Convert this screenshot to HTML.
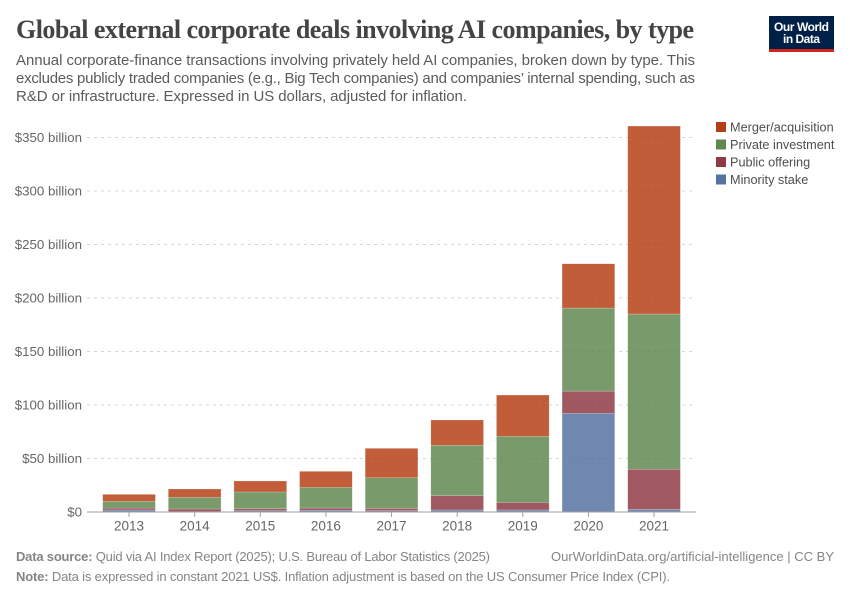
<!DOCTYPE html>
<html lang="en">
<head>
<meta charset="utf-8">
<title>Global external corporate deals involving AI companies, by type</title>
<style>
html,body{margin:0;padding:0;background:#fff;width:850px;height:600px;overflow:hidden}
svg{display:block;font-family:"Liberation Sans",sans-serif}
</style>
</head>
<body>
<svg id="chart" width="850" height="600" viewBox="0 0 850 600" xmlns="http://www.w3.org/2000/svg">
  <rect width="850" height="600" fill="#fff"/>
  <text x="16" y="38" font-family="'Liberation Serif',serif" font-weight="700" font-size="26" fill="#444" textLength="678" lengthAdjust="spacing">Global external corporate deals involving AI companies, by type</text>
  <g font-size="15" fill="#5b5b5b">
    <text x="16" y="65" textLength="679" lengthAdjust="spacing">Annual corporate-finance transactions involving privately held AI companies, broken down by type. This</text>
    <text x="16" y="83" textLength="679" lengthAdjust="spacing">excludes publicly traded companies (e.g., Big Tech companies) and companies’ internal spending, such as</text>
    <text x="16" y="101" textLength="451" lengthAdjust="spacing">R&amp;D or infrastructure. Expressed in US dollars, adjusted for inflation.</text>
  </g>
  <a>
    <rect x="769" y="16" width="65" height="36" fill="#002147"/>
    <rect x="769" y="49" width="65" height="3" fill="#ce261e"/>
    <text x="801.5" y="31" text-anchor="middle" font-size="12" font-weight="700" fill="#fff" textLength="55" lengthAdjust="spacing">Our World</text>
    <text x="801.5" y="43" text-anchor="middle" font-size="12" font-weight="700" fill="#fff" textLength="37" lengthAdjust="spacing">in Data</text>
  </a>
  <g id="grid"></g>
  <g id="bars"></g>
  <g id="axis"></g>
  <g id="legend"></g>
  <g font-size="13" fill="#858585">
    <text x="16" y="561" textLength="474" lengthAdjust="spacing"><tspan font-weight="700">Data source:</tspan> Quid via AI Index Report (2025); U.S. Bureau of Labor Statistics (2025)</text>
    <text x="551" y="561" textLength="283" lengthAdjust="spacing">OurWorldinData.org/artificial-intelligence | CC BY</text>
    <text x="16" y="581" textLength="654" lengthAdjust="spacing"><tspan font-weight="700">Note:</tspan> Data is expressed in constant 2021 US$. Inflation adjustment is based on the US Consumer Price Index (CPI).</text>
  </g>
</svg>
<script>
const years = [2013, 2014, 2015, 2016, 2017, 2018, 2019, 2020, 2021];
const minorityStake = [1.9, 0.4, 1.2, 1.6, 1.2, 1.9, 1.9, 92.2, 2.5];
const publicOffering = [1.8, 2.4, 1.9, 2.1, 2.2, 13.4, 7.1, 20.8, 37.5];
const privateInvestment = [6.3, 10.9, 15.6, 19.3, 28.6, 47.0, 61.7, 77.6, 145.0];
const mergerAcquisition = [6.5, 7.8, 10.3, 15.0, 27.5, 23.7, 38.6, 41.4, 175.7];
const seriesNames = ['Minority stake', 'Public offering', 'Private investment', 'Merger/acquisition'];
const seriesValues = [minorityStake, publicOffering, privateInvestment, mergerAcquisition];
const seriesColors = ['#4c6a9c', '#883039', '#578145', '#b13507'];
const yTicks = [50, 100, 150, 200, 250, 300, 350];

const NS = 'http://www.w3.org/2000/svg';
const plotBottom = 512;
const pxPerBillion = 1.07;
const firstBandLeft = 102.7;
const bandStep = 65.625;
const barWidth = 52.7;
function yScale(v) { return plotBottom - v * pxPerBillion; }
function xLeft(i) { return firstBandLeft + i * bandStep; }
function xCenter(i) { return xLeft(i) + barWidth / 2; }
function make(tag, attrs, parent, text) {
  const el = document.createElementNS(NS, tag);
  for (const k in attrs) el.setAttribute(k, attrs[k]);
  if (text !== undefined) el.textContent = text;
  parent.appendChild(el);
  return el;
}
const grid = document.getElementById('grid');
const bars = document.getElementById('bars');
const axis = document.getElementById('axis');
const legend = document.getElementById('legend');

yTicks.forEach(function (t) {
  const line = make('line', { x1: 87, x2: 696, y1: yScale(t), y2: yScale(t), stroke: '#d6d6d6', 'stroke-dasharray': '3 4' }, grid);
  
  
});

[0].concat(yTicks).forEach(function (t) {
  const label = make('text', { x: 82, y: yScale(t) + 4.7, 'text-anchor': 'end', 'font-size': 13.3, fill: '#666' }, axis, t === 0 ? '$0' : '$' + t + ' billion');
  
  
});

years.forEach(function (year, i) {
  let base = 0;
  seriesValues.forEach(function (values, s) {
    const top = base + values[i];
    const rect = make('rect', { x: xLeft(i), y: yScale(top), width: barWidth, height: yScale(base) - yScale(top), fill: seriesColors[s], 'fill-opacity': 0.8, stroke: '#fff', 'stroke-opacity': 0.4, 'stroke-width': 0.5 }, bars);
    
    
    base = top;
  });
});

const axisLine = make('line', { x1: 87, x2: 696, y1: plotBottom, y2: plotBottom, stroke: '#a1a1a1', 'stroke-width': 1 }, axis);



years.forEach(function (year, i) {
  const tick = make('line', { x1: xCenter(i), x2: xCenter(i), y1: plotBottom, y2: plotBottom + 5, stroke: '#a1a1a1' }, axis);
  
  
  const label = make('text', { x: xCenter(i), y: 530.5, 'text-anchor': 'middle', 'font-size': 13.5, fill: '#666' }, axis, year);
  
  
});

seriesNames.slice().reverse().forEach(function (name, i) {
  const color = seriesColors[seriesNames.length - 1 - i];
  const cy = 127 + i * 17.5;
  const swatch = make('rect', { x: 716, y: cy - 5, width: 10, height: 10, fill: color, 'fill-opacity': 0.95 }, legend);
  
  
  const label = make('text', { x: 730, y: cy + 4.5, 'font-size': 12.7, fill: '#4e4e4e' }, legend, name);
  
  
});
</script>
</body>
</html>
